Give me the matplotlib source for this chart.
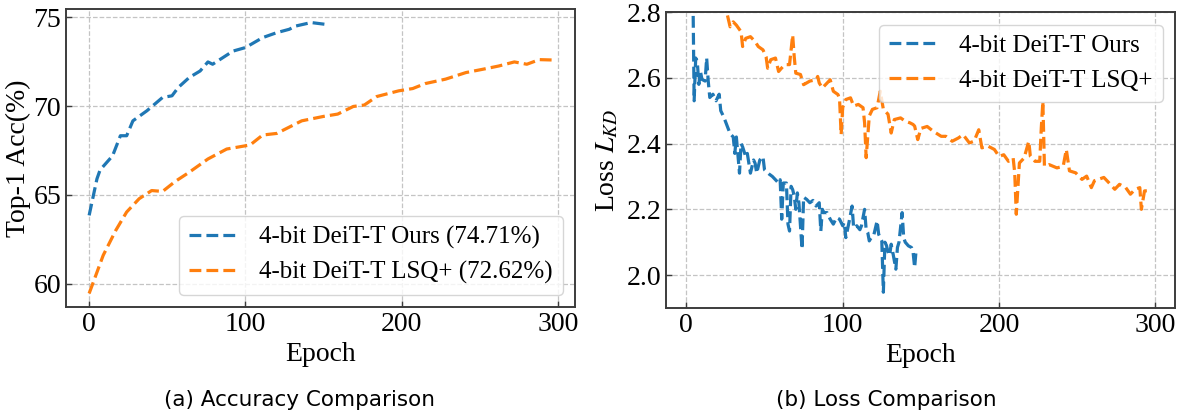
import matplotlib
matplotlib.use('Agg')
import matplotlib.pyplot as plt

plt.rcParams['font.family'] = ['Liberation Serif', 'DejaVu Serif']
plt.rcParams['mathtext.fontset'] = 'stix'

# top-1 accuracy per epoch
acc_ours_epoch = [0, 5, 7, 15, 20, 24, 28, 37, 47, 53, 57, 64, 71, 76, 79, 92,
                  100, 111, 120, 128, 132, 142, 151]
acc_ours = [63.84, 65.9, 66.4, 67.2, 68.33, 68.33, 69.17, 69.74, 70.49, 70.58,
            71.05, 71.61, 71.98, 72.49, 72.36, 73.1, 73.3, 73.86, 74.14, 74.33,
            74.51, 74.71, 74.61]

acc_lsq_epoch = [0, 9, 17, 24, 32, 40, 47, 55, 64, 76, 88, 103, 111, 120, 136,
                 150, 159, 169, 176, 184, 198, 207, 215, 228, 241, 252, 262,
                 272, 280, 288, 296]
acc_lsq = [59.44, 61.59, 62.99, 64.03, 64.78, 65.24, 65.19, 65.75, 66.27, 67.02,
           67.58, 67.81, 68.37, 68.46, 69.17, 69.42, 69.55, 69.98, 70.06, 70.54,
           70.86, 70.99, 71.27, 71.52, 71.89, 72.08, 72.26, 72.49, 72.36, 72.62,
           72.60]

# KD loss per epoch
loss_ours_epoch = [0, 2, 4, 5, 6, 7, 8, 9, 10, 12, 13, 14, 15, 17, 19, 21, 22,
                   24, 26, 28, 30, 31, 32, 34, 35, 36, 38, 39, 41, 43, 44, 45,
                   47, 49, 50, 53, 55, 57, 59, 60, 61, 62, 64, 65, 66, 67, 68,
                   69, 70, 71, 72, 74, 75, 77, 79, 81, 83, 85, 86, 87, 88, 90,
                   92, 94, 96, 98, 100, 101, 102, 104, 106, 107, 109, 111, 112,
                   114, 115, 116, 117, 119, 120, 122, 123, 125, 126, 127, 128,
                   129, 130, 131, 132, 134, 135, 136, 138, 139, 140, 142, 144,
                   145, 146, 147]
loss_ours = [3.60, 3.20, 2.95, 2.53, 2.66, 2.65, 2.58, 2.62, 2.595, 2.59, 2.66,
             2.59, 2.54, 2.55, 2.53, 2.55, 2.50, 2.48, 2.455, 2.43, 2.42, 2.37,
             2.42, 2.31, 2.40, 2.39, 2.36, 2.37, 2.31, 2.35, 2.34, 2.31, 2.35,
             2.36, 2.32, 2.307, 2.30, 2.29, 2.28, 2.29, 2.17, 2.28, 2.28, 2.155,
             2.134, 2.27, 2.26, 2.24, 2.20, 2.25, 2.22, 2.079, 2.237, 2.23, 2.22,
             2.227, 2.21, 2.22, 2.134, 2.20, 2.19, 2.19, 2.17, 2.155, 2.175,
             2.17, 2.15, 2.16, 2.114, 2.16, 2.21, 2.143, 2.15, 2.138, 2.15, 2.20,
             2.138, 2.13, 2.104, 2.12, 2.124, 2.165, 2.124, 2.104, 1.948, 2.10,
             2.09, 2.07, 2.06, 2.094, 2.07, 2.018, 2.084, 2.10, 2.19, 2.114,
             2.10, 2.089, 2.084, 2.07, 2.023, 2.079]

loss_lsq_epoch = [0, 10, 20, 25, 26, 28, 30, 32, 35, 36, 38, 41, 44, 46, 49, 51,
                  52, 54, 57, 59, 61, 63, 66, 67, 68, 69, 70, 73, 75, 79, 83,
                  84, 85, 87, 90, 92, 94, 97, 98, 99, 100, 102, 105, 107, 110,
                  113, 114, 115, 117, 119, 122, 124, 126, 129, 131, 133, 137,
                  140, 143, 145, 146, 148, 150, 154, 158, 163, 166, 170, 174,
                  177, 181, 184, 187, 189, 193, 197, 200, 203, 206, 209, 210,
                  211, 213, 216, 219, 220, 223, 226, 227, 228, 229, 232, 237,
                  241, 243, 245, 249, 253, 256, 259, 261, 267, 270, 274, 277,
                  281, 284, 287, 290, 291, 293, 297]
loss_lsq = [3.45, 3.10, 2.90, 2.82, 2.796, 2.755, 2.77, 2.76, 2.74, 2.695, 2.72,
            2.725, 2.71, 2.695, 2.685, 2.664, 2.629, 2.655, 2.66, 2.619, 2.63,
            2.64, 2.64, 2.685, 2.73, 2.664, 2.614, 2.61, 2.579, 2.59, 2.594,
            2.604, 2.584, 2.569, 2.584, 2.594, 2.559, 2.549, 2.534, 2.427, 2.51,
            2.534, 2.539, 2.514, 2.519, 2.509, 2.463, 2.357, 2.484, 2.504, 2.509,
            2.559, 2.504, 2.489, 2.432, 2.473, 2.478, 2.468, 2.463, 2.458, 2.453,
            2.412, 2.446, 2.452, 2.437, 2.422, 2.422, 2.407, 2.417, 2.427, 2.402,
            2.407, 2.442, 2.387, 2.392, 2.382, 2.361, 2.366, 2.346, 2.356, 2.311,
            2.185, 2.341, 2.356, 2.407, 2.361, 2.346, 2.346, 2.448, 2.528, 2.331,
            2.336, 2.326, 2.331, 2.382, 2.317, 2.311, 2.291, 2.301, 2.266, 2.287,
            2.297, 2.282, 2.261, 2.276, 2.266, 2.246, 2.261, 2.266, 2.2, 2.256,
            2.257]

labels_acc = ['4-bit DeiT-T Ours (74.71%)', '4-bit DeiT-T LSQ+ (72.62%)']
labels_loss = ['4-bit DeiT-T Ours', '4-bit DeiT-T LSQ+']

W, H = 1177, 413
fig = plt.figure(figsize=(W / 100, H / 100), dpi=100)
ax1 = fig.add_axes([66 / W, 1 - 307 / H, 509 / W, 298 / H])
ax2 = fig.add_axes([666 / W, 1 - 308 / H, 509 / W, 296 / H])


def style(ax):
    ax.grid(True, linestyle='--', color='#c4c4c4', linewidth=0.9)
    ax.set_axisbelow(True)
    for s in ax.spines.values():
        s.set_color('#3c3c3c')
        s.set_linewidth(1.4)
    ax.tick_params(direction='in', labelsize=20, length=4, width=1.0,
                   colors='#3c3c3c', labelcolor='black')
    ax.set_xlabel('Epoch', fontsize=20)


lw = 2.3
ax1.plot(acc_ours_epoch, acc_ours, '--', color='#1f77b4', lw=lw, label=labels_acc[0])
ax1.plot(acc_lsq_epoch, acc_lsq, '--', color='#ff7f0e', lw=lw, label=labels_acc[1])
ax1.set_xticks([0, 100, 200, 300])
ax1.set_yticks([60, 65, 70, 75])
ax1.set_ylabel('Top-1 Acc(%)', fontsize=20, labelpad=2)
style(ax1)
ax1.legend(loc='lower right', fontsize=18, framealpha=0.8)

ax2.plot(loss_ours_epoch, loss_ours, '--', color='#1f77b4', lw=lw, label=labels_loss[0])
ax2.plot(loss_lsq_epoch, loss_lsq, '--', color='#ff7f0e', lw=lw, label=labels_loss[1])
ax2.set_xlim(-13, 312.5)
ax2.set_ylim(1.9, 2.8)
ax2.set_xticks([0, 100, 200, 300])
ax2.set_yticks([2.0, 2.2, 2.4, 2.6, 2.8])
ax2.set_ylabel('Loss $L_{KD}$', fontsize=20)
style(ax2)
ax2.legend(loc='upper right', fontsize=18, framealpha=0.8)

# sub-figure captions below each panel
fig.text(300 / W, 1 - 400 / H, '(a) Accuracy Comparison', family='DejaVu Sans',
         fontsize=15.5, ha='center', va='center')
fig.text(886 / W, 1 - 400 / H, '(b) Loss Comparison', family='DejaVu Sans',
         fontsize=15.5, ha='center', va='center')

fig.savefig('out.png', dpi=100)
